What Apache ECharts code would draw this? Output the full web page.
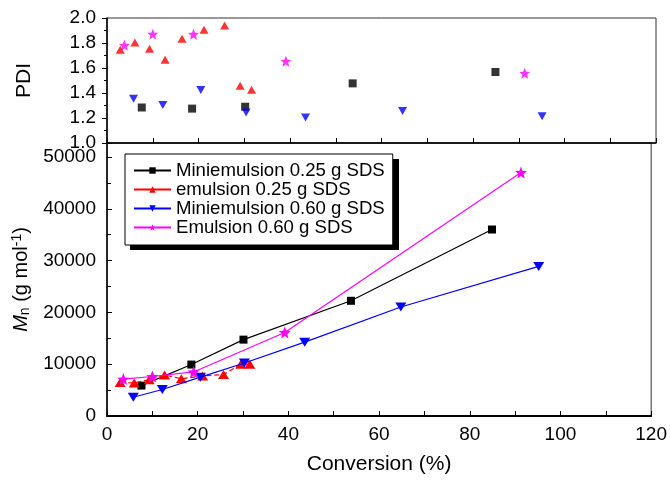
<!DOCTYPE html>
<html>
<head>
<meta charset="utf-8">
<script src="https://cdn.jsdelivr.net/npm/echarts@6/dist/echarts.min.js"></script>
<style>html,body{margin:0;padding:0;background:#fff}#c{width:670px;height:480px}</style>
</head>
<body>
<div id="c"></div>
<script>
// Series names
const seriesNames = ['Miniemulsion 0.25 g SDS', 'emulsion 0.25 g SDS', 'Miniemulsion 0.60 g SDS', 'Emulsion 0.60 g SDS'];

// PDI panel data [conversion %, PDI]
const pdiMini025 = [[7.6,1.284],[18.6,1.275],[30.2,1.29],[53.7,1.477],[84.9,1.568]];
const pdiEmul025 = [[2.9,1.746],[6.1,1.805],[9.3,1.755],[12.7,1.666],[16.4,1.835],[21.2,1.907],[25.7,1.94],[29.1,1.458],[31.6,1.426]];
const pdiMini060 = [[5.8,1.354],[12.2,1.304],[20.5,1.425],[30.4,1.245],[43.4,1.204],[64.6,1.257],[95.1,1.214]];
const pdiEmul060 = [[3.8,1.782],[10.0,1.871],[18.9,1.87],[39.1,1.654],[91.3,1.558]];

// Mn panel data [conversion %, Mn g/mol]
const mnMini025 = [[7.6,5870],[18.6,9930],[30.1,14740],[53.8,22240],[84.9,36000]];
const mnEmul025 = [[2.9,6490],[6.0,6370],[9.3,7000],[12.7,7930],[16.4,7180],[21.1,7740],[25.7,7990],[29.5,9990],[31.5,9990]];
const mnMini060 = [[5.8,3620],[12.2,5120],[20.6,7500],[30.3,10240],[43.6,14250],[64.8,21050],[95.2,28870]];
const mnEmul060 = [[3.6,7120],[10.0,7620],[19.1,8500],[39.2,16120],[91.3,47000]];

// Axis ticks
const xTicks = {min:0, max:120, step:10, labelStep:20};
const pdiTicks = {min:1.0, max:2.0, step:0.2};
const mnTicks = {min:0, step:10000, top:52700};

const FONT = 'Liberation Sans, Arial, sans-serif';
const colors = ['#000000', '#ff0000', '#0000ff', '#ff00ff'];
const starPath = 'path://M0,-10 L2.6,-3.4 L9.51,-3.09 L4.1,1.3 L5.88,8.09 L0,4.3 L-5.88,8.09 L-4.1,1.3 L-9.51,-3.09 L-2.6,-3.4 Z';
const symbols = ['rect', 'triangle', 'triangle', starPath];
const rotates = [0, 0, 180, 0];
const sizesTop = [8, [9,8], [9,8], 11];
const sizesBot = [8, [11,9], [11,9], 12];

const pdiData = [pdiMini025, pdiEmul025, pdiMini060, pdiEmul060];
const mnData = [mnMini025, mnEmul025, mnMini060, mnEmul060];

const series = [];
mnData.forEach((d, i) => {
  series.push({
    name: seriesNames[i], type: 'line', xAxisIndex: 1, yAxisIndex: 1, data: d,
    symbol: symbols[i], symbolRotate: rotates[i], symbolSize: sizesBot[i],
    showAllSymbol: true,
    lineStyle: {color: colors[i], width: 1.2, type: i === 1 ? [5,3] : 'solid'},
    itemStyle: {color: colors[i]}, animation: false, z: 3 + i
  });
});
pdiData.forEach((d, i) => {
  series.push({
    name: 'pdi' + i, type: 'scatter', xAxisIndex: 0, yAxisIndex: 0, data: d,
    symbol: symbols[i], symbolRotate: rotates[i], symbolSize: sizesTop[i],
    itemStyle: {color: colors[i]}, animation: false, z: 3 + i
  });
});

const chart = echarts.init(document.getElementById('c'), null, {renderer: 'canvas'});
chart.setOption({
  animation: false,
  backgroundColor: '#fff',
  textStyle: {fontFamily: FONT},
  grid: [
    {left: 107, top: 18, width: 549, height: 125, show: true, borderColor: '#333', borderWidth: 1, backgroundColor: 'transparent'},
    {left: 107, top: 143, width: 549, height: 279, show: true, borderColor: '#333', borderWidth: 1, backgroundColor: 'transparent'}
  ],
  legend: {
    data: seriesNames.map((n, i) => ({name: n, lineStyle: {type: 'solid'}})),
    orient: 'vertical', left: 125, top: 154, z: 10,
    itemWidth: 37, itemHeight: 8, itemGap: 0,
    padding: [7, 8, 8, 8],
    backgroundColor: '#fff', borderColor: '#000', borderWidth: 1,
    textStyle: {fontSize: 18.6, color: '#000', fontFamily: FONT},
    selectedMode: false
  },
  graphic: [
    {type: 'rect', z: 9, left: 130, top: 159, shape: {width: 269, height: 91}, style: {fill: '#000'}}
  ],
  xAxis: [
    {gridIndex: 0, type: 'value', min: xTicks.min, max: xTicks.max, interval: xTicks.step,
     axisLine: {onZero: false, lineStyle: {color: '#000', width: 1.5}},
     axisTick: {inside: true, length: 5, lineStyle: {color: '#000'}},
     axisLabel: {show: false}, splitLine: {show: false}},
    {gridIndex: 1, type: 'value', min: xTicks.min, max: xTicks.max, interval: xTicks.step,
     axisLine: {onZero: false, lineStyle: {color: '#000', width: 2}},
     axisTick: {inside: true, length: 5, lineStyle: {color: '#000'}},
     axisLabel: {fontSize: 19, color: '#000', margin: 9, fontFamily: FONT,
       formatter: v => (v % xTicks.labelStep === 0 ? String(v) : '')},
     splitLine: {show: false},
     name: 'Conversion (%)', nameLocation: 'middle', nameGap: 38,
     nameTextStyle: {fontSize: 21, color: '#000', fontFamily: FONT}}
  ],
  yAxis: [
    {gridIndex: 0, type: 'value', min: pdiTicks.min, max: pdiTicks.max, interval: pdiTicks.step,
     axisLine: {show: true, onZero: false, lineStyle: {color: '#000', width: 1.5}},
     axisTick: {show: true, inside: false, length: 5, lineStyle: {color: '#000'}},
     minorTick: {show: true, splitNumber: 2, length: 3, lineStyle: {color: '#000'}},
     axisLabel: {fontSize: 19, color: '#000', margin: 11, fontFamily: FONT, formatter: v => v.toFixed(1)},
     splitLine: {show: false},
     name: 'PDI', nameLocation: 'middle', nameRotate: 90, nameGap: 72,
     nameTextStyle: {fontSize: 21, color: '#000', fontFamily: FONT}},
    {gridIndex: 1, type: 'value', min: mnTicks.min, max: mnTicks.top, interval: mnTicks.step,
     axisLine: {show: true, onZero: false, lineStyle: {color: '#000', width: 1.5}},
     axisTick: {show: true, inside: true, length: 5, lineStyle: {color: '#000'}},
     minorTick: {show: true, splitNumber: 2, length: 4, lineStyle: {color: '#000'}},
     axisLabel: {fontSize: 19, color: '#000', margin: 11, fontFamily: FONT, showMaxLabel: false,
       formatter: v => String(v)},
     splitLine: {show: false},
     name: '{i|M}{s|n} (g mol{p|-1})', nameLocation: 'middle', nameRotate: 90, nameGap: 68,
     nameTextStyle: {fontSize: 20, color: '#000', fontFamily: FONT,
       rich: {
         i: {fontSize: 20, fontStyle: 'italic', fontFamily: FONT, color: '#000'},
         s: {fontSize: 14, fontFamily: FONT, color: '#000', verticalAlign: 'bottom', padding: [8, 0, 0, 0]},
         p: {fontSize: 14, fontFamily: FONT, color: '#000', verticalAlign: 'top', padding: [0, 0, 8, 0]}
       }}}
  ],
  series: series
});
</script>
</body>
</html>
